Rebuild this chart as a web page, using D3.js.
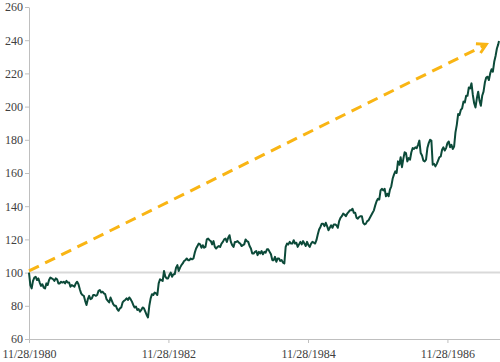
<!DOCTYPE html>
<html>
<head>
<meta charset="UTF-8">
<title>Index since 11/28/1980</title>
<script src="https://d3js.org/d3.v7.min.js"></script>
<style>
  body { margin: 0; background: #fff; }
</style>
</head>
<body>
<svg width="500" height="362"></svg>
<script>
// weekly index values (100 = 11/28/1980), one array per year, each starting on the given Friday
const weekly = [
  { start: "1980-11-28", values: [100, 92.5, 90.5, 95, 97] },
  { start: "1981-01-02", values: [97.5, 95.5, 96.5, 94, 92, 93, 91, 90.5, 93.5, 92.5, 95.5, 97, 96.5,
      96, 95, 96.5, 96, 93.5, 93.5, 94.5, 94, 94.5, 93.5, 95, 94, 94, 91.5, 92.5, 92, 91.5, 93.5,
      94.5, 93, 90, 87.5, 86.5, 86, 83, 80.5, 84, 86, 84, 84.5, 86.5, 86.5, 86, 86.5, 89, 89.5, 88, 88.5, 87.5] },
  { start: "1982-01-01", values: [87, 84, 83, 82, 85, 83, 81, 80, 80, 78, 77, 78.5, 79, 82, 83, 83.5, 84.5, 83.5,
      85, 84, 82.5, 80.5, 79, 79.5, 77.5, 78, 76.5, 77.5, 79, 78.5, 76.5, 74.5, 73, 80, 84.5,
      87, 86.5, 88, 87.5, 86.5, 93.5, 96, 95.5, 95, 101, 97.5, 96.5, 96.5, 98.5, 100, 97.5, 99, 99] },
  { start: "1983-01-07", values: [103, 104.5, 101, 103, 104.5, 105.5, 107, 107.5, 108.5, 107.5, 107.5, 108.5,
      108, 108.5, 112, 114.5, 116, 117.5, 117, 115, 116.5, 115, 115.5, 120, 120.5, 119.5, 119, 117, 119, 115.5,
      114.5, 115.5, 116, 115.5, 117.5, 118.5, 120, 120.5, 118.5, 121, 122.5, 118.5, 116.5, 115.5, 118.5, 118.5, 119,
      118, 117.5, 116, 116.5, 117] },
  { start: "1984-01-06", values: [120, 119, 118.5, 116, 114.5, 111.5, 111.5, 112.5, 113, 110.5, 112.5, 111.5, 113,
      111, 112.5, 112, 114, 114, 112.5, 111, 107.5, 107.5, 109.5, 106.5, 108.5, 108.5, 107, 107.5, 106, 105.5,
      115.5, 117.5, 117, 118.5, 117.5, 117.5, 119.5, 117.5, 118, 115.5, 117, 118.5, 117, 119, 117.5, 116, 118.5, 116.5,
      115.5, 117.5, 118.5, 118] },
  { start: "1985-01-04", values: [117.5, 119.5, 123, 126, 127.5, 129.5, 129.5, 128, 130, 128, 125.5, 127, 128.5,
      127, 129, 129, 128.5, 127, 131, 133, 134, 135.5, 135, 134, 135.5, 136.5, 137.5, 137.5, 138.5, 136,
      136, 133, 132.5, 133.5, 134, 134, 130, 129, 129.5, 131, 131.5, 133, 134.5, 136, 137.5, 140.5, 143, 144.5,
      144, 149.5, 150.5, 149.5] },
  { start: "1986-01-03", values: [150.5, 146, 147.5, 146, 150, 152, 156.5, 159, 161, 160, 167, 165, 169.5,
      163.5, 168.5, 172.5, 172, 167, 169, 168, 172.5, 175, 174.5, 175.5, 175, 177, 179.5, 172, 170.5, 167.5,
      167, 168, 175, 178, 180, 179.5, 165, 165.5, 164, 165.5, 167.5, 169.5, 170, 174, 175.5, 173.5, 175, 178,
      179, 175.5, 177, 174.5] },
  { start: "1987-01-02", values: [176, 184.5, 189, 195.5, 195, 198, 199, 203, 202.5, 206.5, 206.5, 211.5, 211,
      214, 207, 202, 199.5, 205, 209, 203.5, 200.5, 206.5, 209, 214.5, 217.5, 218, 216, 220, 222.5, 221, 227,
      230.5, 235, 237.5] }
];
const lastPoint = { date: "1987-08-25", value: 239.5 };

const yTicks = [60, 80, 100, 120, 140, 160, 180, 200, 220, 240, 260];
const xTicks = ["1980-11-28", "1982-11-28", "1984-11-28", "1986-11-28"];
const baseLevel = 100;
// trend arrow drawn from the base date to the last peak
const arrowFrom = { date: "1980-11-28", value: 101 };
const arrowTo = { date: "1987-06-20", value: 237.5 };

const parse = d3.utcParse("%Y-%m-%d");
const fmt = d3.utcFormat("%-m/%-d/%Y");

const series = [];
weekly.forEach(yr => {
  const s = parse(yr.start);
  yr.values.forEach((v, i) => series.push({ date: d3.utcDay.offset(s, 7 * i), value: v }));
});
series.push({ date: parse(lastPoint.date), value: lastPoint.value });

const svg = d3.select("svg");
const plotLeft = 29, plotRight = 499, plotTop = 7, plotBottom = 339;
const textFont = "'Liberation Serif', 'Times New Roman', 'DejaVu Serif', serif";

const x = d3.scaleUtc()
  .domain([parse("1980-11-28"), parse(lastPoint.date)])
  .range([plotLeft, plotRight]);
const y = d3.scaleLinear().domain([60, 260]).range([plotBottom, plotTop]);

// base line at 100
svg.append("line")
  .attr("x1", plotLeft).attr("x2", 500)
  .attr("y1", y(baseLevel)).attr("y2", y(baseLevel))
  .attr("stroke", "#d9d9d9").attr("stroke-width", 2);

// axes
const yAxis = svg.append("g")
  .attr("transform", `translate(${plotLeft},0)`)
  .call(d3.axisLeft(y).tickValues(yTicks).tickSize(4).tickSizeOuter(0).tickPadding(2));
const xAxis = svg.append("g")
  .attr("transform", `translate(0,${plotBottom})`)
  .call(d3.axisBottom(x).tickValues(xTicks.map(parse)).tickFormat(fmt)
    .tickSize(4).tickSizeOuter(0).tickPadding(6));
[yAxis, xAxis].forEach(g => {
  g.select(".domain").attr("stroke", "#bfbfbf");
  g.selectAll(".tick line").attr("stroke", "#bfbfbf");
  g.attr("font-family", textFont).attr("font-size", 12);
  g.selectAll("text").attr("fill", "#404040").style("font-family", textFont);
});
xAxis.select(".domain").attr("d", `M${plotLeft},0.5H500`);

// trend arrow
svg.append("defs").append("marker")
  .attr("id", "head")
  .attr("viewBox", "0 0 10 10")
  .attr("refX", 8).attr("refY", 5)
  .attr("markerWidth", 13).attr("markerHeight", 13)
  .attr("markerUnits", "userSpaceOnUse")
  .attr("orient", "auto")
  .append("path")
  .attr("d", "M1,1 L8,5 L1,9")
  .attr("fill", "none")
  .attr("stroke", "#f9b514")
  .attr("stroke-width", 2.2);

svg.append("line")
  .attr("x1", x(parse(arrowFrom.date))).attr("y1", y(arrowFrom.value))
  .attr("x2", x(parse(arrowTo.date))).attr("y2", y(arrowTo.value))
  .attr("stroke", "#f9b514")
  .attr("stroke-width", 3)
  .attr("stroke-dasharray", "11,7")
  .attr("marker-end", "url(#head)");

// index line
svg.append("path")
  .datum(series)
  .attr("fill", "none")
  .attr("stroke", "#0c4a39")
  .attr("stroke-width", 2)
  .attr("stroke-linejoin", "round")
  .attr("d", d3.line().x(d => x(d.date)).y(d => y(d.value)));
</script>
</body>
</html>
